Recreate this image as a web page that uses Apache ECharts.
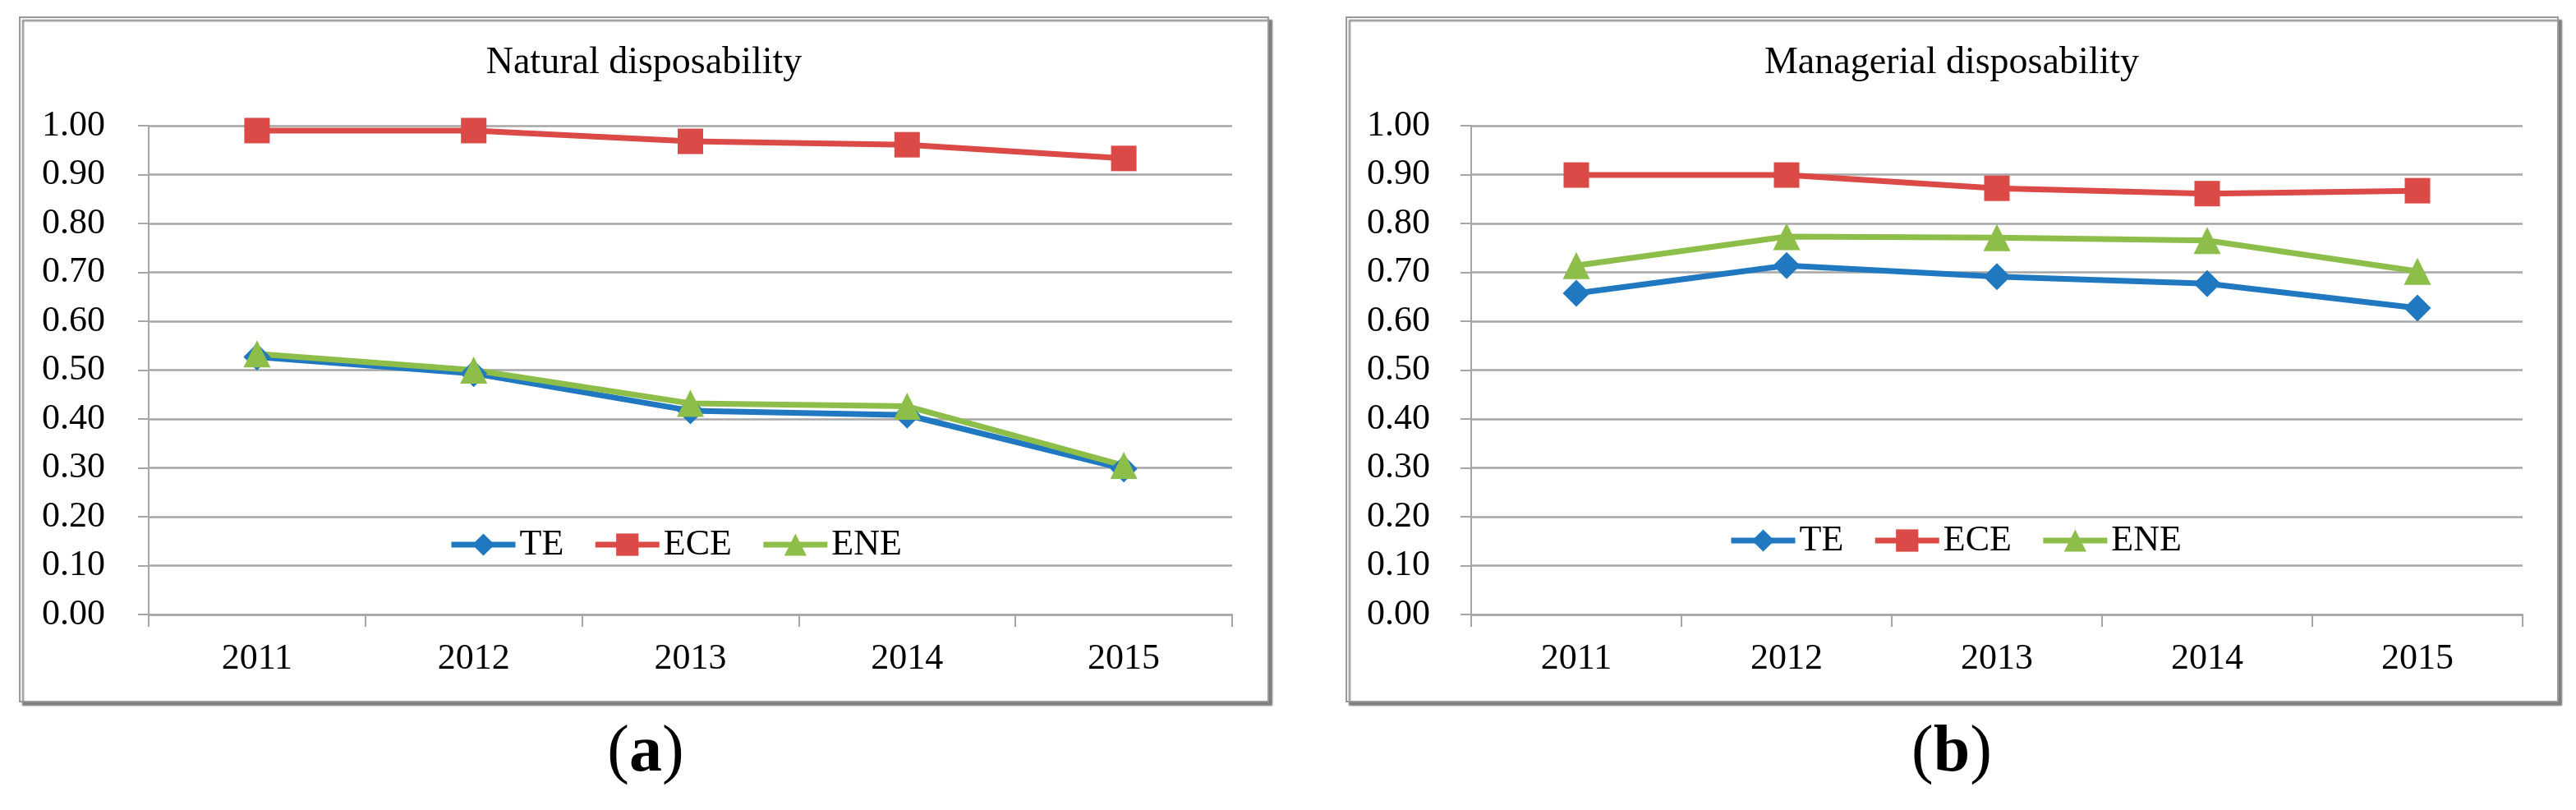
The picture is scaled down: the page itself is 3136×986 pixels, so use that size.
<!DOCTYPE html>
<html>
<head>
<meta charset="utf-8">
<script src="https://cdn.jsdelivr.net/npm/echarts@6/dist/echarts.min.js"></script>
<style>
html,body{margin:0;padding:0;background:#fff;}
#c{width:3136px;height:986px;}
</style>
</head>
<body>
<div id="c"></div>
<script>
const years = ['2011', '2012', '2013', '2014', '2015'];
const seriesNames = ['TE', 'ECE', 'ENE'];
const yTicks = [0, 0.1, 0.2, 0.3, 0.4, 0.5, 0.6, 0.7, 0.8, 0.9, 1.0];

const titleA = 'Natural disposability';
const titleB = 'Managerial disposability';

const naturalTE  = [0.527, 0.493, 0.417, 0.408, 0.298];
const naturalECE = [0.990, 0.990, 0.968, 0.961, 0.933];
const naturalENE = [0.533, 0.500, 0.432, 0.426, 0.305];

const managerialTE  = [0.657, 0.714, 0.691, 0.677, 0.627];
const managerialECE = [0.899, 0.899, 0.872, 0.861, 0.867];
const managerialENE = [0.714, 0.773, 0.771, 0.765, 0.702];

const FONT = 'Liberation Serif';
const GRID_COLOR = '#a6a6a6';
const colors = { TE: '#2079c0', ECE: '#db4a46', ENE: '#8dbe4a' };
const symbols = { TE: 'diamond', ECE: 'rect', ENE: 'triangle' };

function xAxis(gi) {
  return {
    type: 'category', gridIndex: gi, data: years, boundaryGap: true,
    axisLine: { show: true, lineStyle: { color: GRID_COLOR, width: 2.5 } },
    axisTick: { show: true, length: 15, interval: 0, lineStyle: { color: GRID_COLOR, width: 2 } },
    axisLabel: { fontFamily: FONT, fontSize: 44, color: '#000', margin: 32, interval: 0 }
  };
}
function yAxis(gi, margin) {
  return {
    type: 'value', gridIndex: gi, min: 0, max: 1, interval: 0.1,
    axisLine: { show: true, lineStyle: { color: GRID_COLOR, width: 2 } },
    axisTick: { show: true, length: 13, lineStyle: { color: GRID_COLOR, width: 2 } },
    splitLine: { show: true, lineStyle: { color: GRID_COLOR, width: 2.5 } },
    axisLabel: { fontFamily: FONT, fontSize: 44, color: '#000', margin: margin,
      formatter: v => v.toFixed(2) }
  };
}
function line(name, data, gi) {
  return {
    type: 'line', name: name, xAxisIndex: gi, yAxisIndex: gi, data: data,
    symbol: symbols[name], symbolSize: name === 'ECE' ? 31 : 33,
    lineStyle: { color: colors[name], width: 7 },
    itemStyle: { color: colors[name], borderWidth: 0 },
    emphasis: { disabled: true }, animation: false
  };
}
function legend(left, top) {
  return {
    data: seriesNames, left: left, top: top, padding: 0,
    itemWidth: 78, itemHeight: 34, itemGap: 35, selectedMode: false,
    lineStyle: { width: 7 },
    itemStyle: { borderWidth: 0 },
    textStyle: { fontFamily: FONT, fontSize: 44, color: '#000', padding: [0, 0, 0, 0] }
  };
}
function frame(x, y, w, h) {
  return {
    type: 'rect', z: -10, silent: true,
    shape: { x: x, y: y, width: w, height: h },
    style: { fill: '#fff', stroke: '#9a9a9a', lineWidth: 2,
      shadowColor: 'rgba(110,110,110,0.9)', shadowOffsetX: 4, shadowOffsetY: 4, shadowBlur: 2 }
  };
}
function label(x, y, text, size) {
  return {
    type: 'text', z: 10, silent: true,
    style: { x: x, y: y, text: text, font: size + 'px "' + FONT + '"', fill: '#000',
      textAlign: 'center', textVerticalAlign: 'middle' }
  };
}
function caption(x, y, letter) {
  return {
    type: 'text', z: 10, silent: true,
    style: { x: x, y: y, text: '{p|(}{b|' + letter + '}{p|)}',
      textAlign: 'center', textVerticalAlign: 'middle', fill: '#000',
      rich: {
        p: { fontFamily: FONT, fontSize: 80, color: '#000' },
        b: { fontFamily: FONT, fontSize: 80, fontWeight: 'bold', color: '#000' }
      } }
  };
}

const chart = echarts.init(document.getElementById('c'), null, { renderer: 'canvas' });
chart.setOption({
  backgroundColor: '#fff',
  animation: false,
  grid: [
    { left: 181, top: 153, width: 1319, height: 595 },
    { left: 1791, top: 153, width: 1280, height: 595 }
  ],
  xAxis: [xAxis(0), xAxis(1)],
  yAxis: [yAxis(0, 53), yAxis(1, 50)],
  legend: [legend(546, 641), legend(2104, 636)],
  series: [
    line('TE', naturalTE, 0), line('ECE', naturalECE, 0), line('ENE', naturalENE, 0),
    line('TE', managerialTE, 1), line('ECE', managerialECE, 1), line('ENE', managerialENE, 1)
  ],
  graphic: [
    frame(24, 21, 1520, 833),
    frame(1639, 21, 1475, 833),
    label(784, 77, titleA, 46),
    label(2376, 77, titleB, 46),
    caption(786, 917, 'a'),
    caption(2376, 917, 'b')
  ]
});
</script>
</body>
</html>
